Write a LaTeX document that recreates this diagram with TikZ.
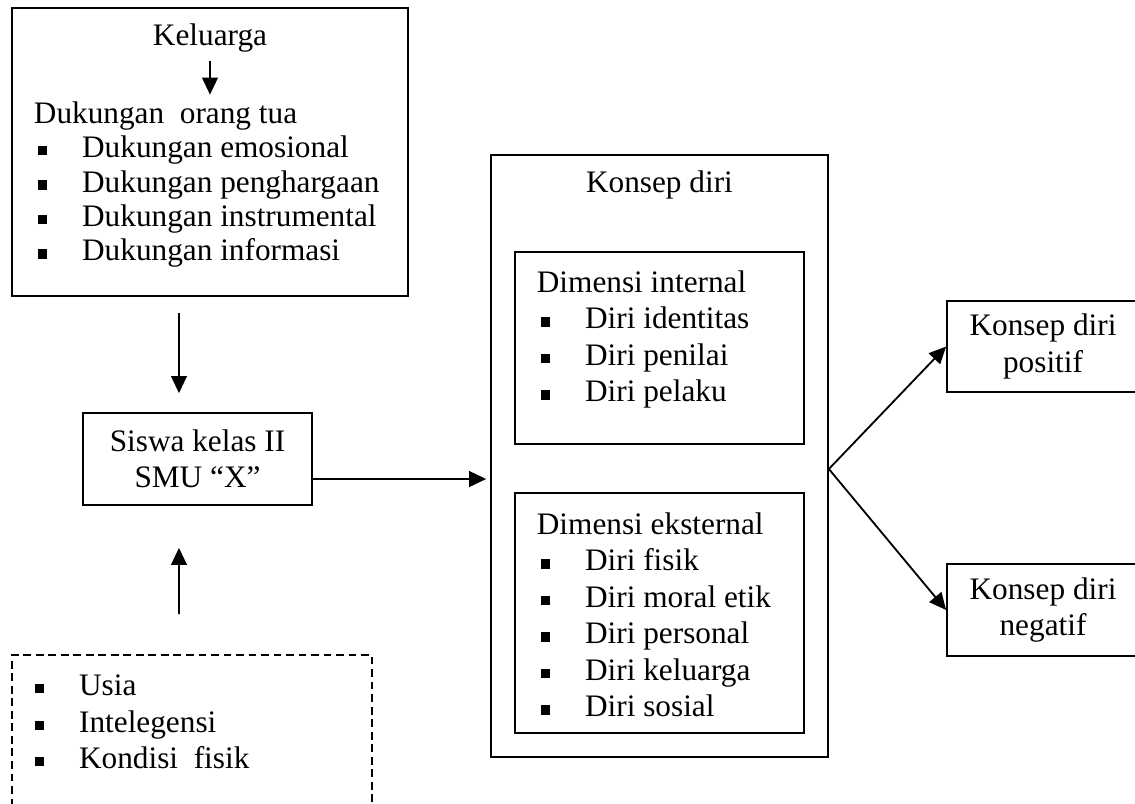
\documentclass[tikz,border=0pt]{standalone}
\usepackage{fontspec}
\setmainfont{Liberation Serif}
\usetikzlibrary{arrows.meta}
\newcommand{\butir}{\makebox[18.5pt][l]{\hspace{1.5pt}\rule[0.15ex]{3.6pt}{3.6pt}}}
\tikzset{
  kotak/.style={draw, line width=0.7pt, inner sep=0pt},
  teks/.style={inner sep=0pt, align=left, font=\fontsize{12}{14}\selectfont},
}
\begin{document}
\begin{tikzpicture}[>={Triangle[length=6.5pt,width=6pt]}, line width=0.7pt]
\useasboundingbox (0,0) rectangle (15.302,-10.839);
\clip (0,0) rectangle (15.302,-10.839);
\node[kotak, minimum width=5.339cm, minimum height=3.883cm] (keluarga) at (2.831,-2.049) {};
\node[teks, anchor=base] (judul) at (2.831,-0.620) {Keluarga};
\node[teks, anchor=north west, font=\fontsize{12}{13.2}\selectfont] (dukungan) at (0.445,-1.356) {Dukungan\ \ orang tua\\\butir Dukungan emosional\\\butir Dukungan penghargaan\\\butir Dukungan instrumental\\\butir Dukungan informasi};
\draw[->] ([yshift=-0.1cm]judul.south) -- ([yshift=0.08cm]judul.south |- dukungan.north);
\node[kotak, teks, align=center, minimum width=3.087cm, minimum height=1.240cm] (siswa) at (2.663,-6.188) {Siswa kelas II\\SMU ``X''};
\draw[->] ([xshift=-0.418cm,yshift=-0.216cm]keluarga.south) -- ([xshift=-0.25cm,yshift=0.256cm]siswa.north);
\node[kotak, dashed, dash pattern=on 3pt off 1.8pt, minimum width=4.854cm, minimum height=2.359cm] (faktor) at (2.589,-10.010) {};
\node[teks, anchor=north west] (faktorlist) at (0.404,-9.087) {\butir Usia\\\butir Intelegensi\\\butir Kondisi\ \ fisik};
\draw[->] ([xshift=-0.176cm,yshift=0.54cm]faktor.north) -- ([xshift=-0.25cm,yshift=-0.566cm]siswa.south);
\node[kotak, minimum width=4.543cm, minimum height=8.116cm] (konsep) at (8.891,-6.148) {};
\node[teks, anchor=base] (konsepjudul) at (8.891,-2.589) {Konsep diri};
\node[kotak, minimum width=3.896cm, minimum height=2.589cm] (internal) at (8.891,-4.692) {};
\node[teks, anchor=north west] (internallist) at (7.226,-3.635) {Dimensi internal\\\butir Diri identitas\\\butir Diri penilai\\\butir Diri pelaku};
\node[kotak, minimum width=3.896cm, minimum height=3.236cm] (eksternal) at (8.891,-8.264) {};
\node[teks, anchor=north west] (eksternallist) at (7.226,-6.897) {Dimensi eksternal\\\butir Diri fisik\\\butir Diri moral etik\\\butir Diri personal\\\butir Diri keluarga\\\butir Diri sosial};
\draw[->, shorten >=1.5pt] ([yshift=-0.27cm]siswa.east) -- ([yshift=-0.27cm]siswa.east -| konsep.west);
\node[kotak, teks, align=center, minimum width=2.589cm, minimum height=1.227cm] (positif) at (14.062,-4.672) {Konsep diri\\positif};
\node[kotak, teks, align=center, minimum width=2.589cm, minimum height=1.240cm] (negatif) at (14.062,-8.224) {Konsep diri\\negatif};
\coordinate (cabang) at ([yshift=-0.175cm]konsep.east);
\draw[->] (cabang) -- (positif.west);
\draw[->] (cabang) -- (negatif.west);
\end{tikzpicture}
\end{document}
